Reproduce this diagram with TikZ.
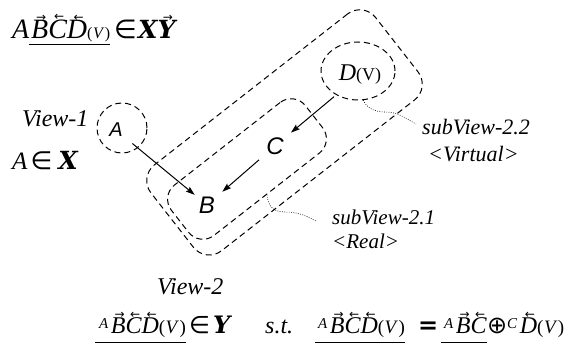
\documentclass[tikz,border=0pt]{standalone}
\usepackage{fontspec}
\setmainfont{Liberation Serif}
\newfontfamily\hsans{Liberation Sans}
\newfontfamily\dvs{DejaVu Sans}
\newfontfamily\bxf{DejaVu Serif}
\usetikzlibrary{arrows.meta,shapes.geometric}
\newcommand\fs[1]{\fontsize{#1}{#1}\selectfont}
\newcommand\acc[2]{\leavevmode\setbox0=\hbox{\itshape #2}%
  \rlap{\hbox to\wd0{\hss\kern3pt\raisebox{\dimexpr\ht0-0.5pt\relax}{\fs{12}\dvs\mdseries\upshape #1}\hss}}\box0}
\newcommand\RA[1]{\acc{→}{#1}}
\newcommand\LA[1]{\acc{←}{#1}}
\newcommand\Vpar[1]{{\fs{#1}(\kern0.5pt\textit{V}\kern0.5pt)}}
\newcommand\ul[2]{\underline{#2\rule[-#1]{0pt}{0pt}}}
\newcommand\sps[1]{\raisebox{5pt}{\fs{15}\textit{#1}}\kern2.5pt}
\begin{document}
\begin{tikzpicture}[x=1pt,y=-1pt,
  dsh/.style={draw, line width=1pt, dash pattern=on 6pt off 4pt, inner sep=0pt},
  arr/.style={-{Stealth[length=9pt,width=6pt,inset=1.5pt]}, line width=1pt},
  lead/.style={line width=0.6pt, dash pattern=on 0.8pt off 1.5pt},
  lbl/.style={font=\itshape\fs{21}, anchor=base west, inner sep=0pt},
  frm/.style={anchor=base west, inner sep=0pt}]
\useasboundingbox (0,0) rectangle (581,347);
% shapes
\node[dsh, ellipse, minimum width=74pt, minimum height=58pt] (ellD) at (358,71) {};
\node[dsh, circle, minimum size=50pt] (cirA) at (122,128) {};
\node[dsh, rectangle, rounded corners=20pt, minimum width=285pt, minimum height=109pt, rotate=38] (view2) at (284.5,132.4) {};
\node[dsh, rectangle, rounded corners=18pt, minimum width=170pt, minimum height=64pt, rotate=38] (sub21) at (247,169) {};
% node labels
\node[font=\hsans\itshape\fs{20}] (A) at (116,130) {A};
\node[font=\hsans\itshape\fs{24}] (B) at (207,205) {B};
\node[font=\hsans\itshape\fs{24}] (C) at (275,146) {C};
\node (D) at (360,75) {\fs{24}\textit{D}{\fs{18}(V)}};
% arrows
\draw[arr, shorten <=8pt, shorten >=1pt] (A) -- (B);
\draw[arr, shorten <=5pt, shorten >=5pt] (C) -- (B);
\draw[arr, shorten <=13pt, shorten >=5pt] (D) -- (C);
% texts
\node[lbl, font=\itshape\fs{24}] (v1) at (22,127) {View-1};
\node[frm] (AinX) at (12,170) {\fs{25}\textit{A}\kern3pt{\dvs ∈}\kern6pt{\bxf\bfseries\itshape X}};
\node[lbl, font=\itshape\fs{22}] (sv22) at (422,135) {subView-2.2};
\node[lbl, font=\itshape\fs{22}] (virt) at (428,162) {<Virtual>};
\node[lbl] (sv21) at (332,225) {subView-2.1};
\node[lbl] (real) at (332,249) {<Real>};
\node[lbl, font=\itshape\fs{24}] (v2) at (157,295) {View-2};
% leaders
\coordinate (c22) at (416,124);
\coordinate (c21) at (316,221);
\draw[lead] (ellD.-80) .. controls (366,106) and (372,112) .. (385,112) .. controls (398,112) and (405,118) .. (c22);
\draw[lead] (sub21.south) .. controls (268,205) and (272,212) .. (285,212) .. controls (300,212) and (308,217) .. (c21);
% top formula
\node[frm] (f1a) at (12,39) {\fs{28}\textit{A}};
\node[frm] (f1b) at (29,39) {\fs{28}\ul{4pt}{\kern2pt\RA{B}\LA{C}\LA{D}\Vpar{16}}};
\node[frm] (f1c) at (114,39) {\fs{26}\dvs ∈};
\node[frm] (f1d) at (138,39) {\fs{25}\bxf\bfseries\itshape X\RA{Y}};
% bottom formula
\node[frm] (f2a) at (95,334) {\fs{24}\ul{7pt}{\kern4pt\sps{A}\RA{B}\LA{C}\LA{D}\Vpar{19}}};
\node[frm] (f2b) at (189,334) {\fs{24}{\dvs ∈}\kern3pt{\bxf\bfseries\itshape Y}};
\node[frm] (st) at (265,334) {\fs{24}\textit{s.t.}};
\node[frm] (f3a) at (315,334) {\fs{24}\ul{7pt}{\kern3pt\sps{A}\RA{B}\LA{C}\LA{D}\Vpar{19}}};
\node[frm] (eq) at (418,334) {\fs{24}\dvs\bfseries =};
\node[frm] (f3b) at (441,334) {\fs{24}\ul{7pt}{\kern3pt\sps{A}\RA{B}\LA{C}}};
\node[frm] (op) at (487,334) {\fs{24}\dvs ⊕};
\node[frm] (f3c) at (507,334) {\fs{24}\sps{C}\LA{D}\Vpar{19}};
\end{tikzpicture}
\end{document}
